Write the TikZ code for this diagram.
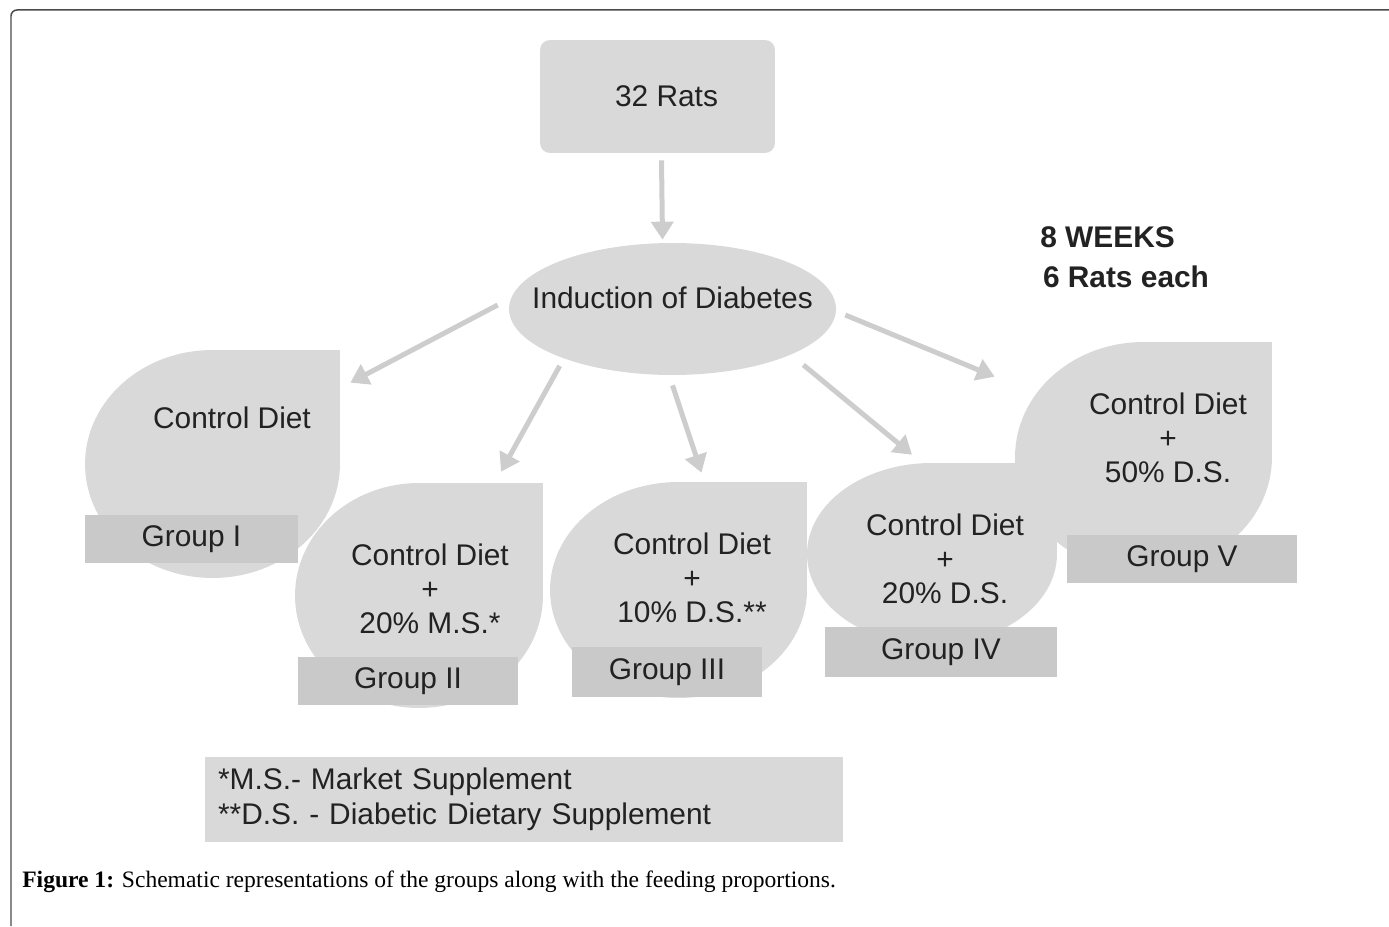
\documentclass[tikz,border=0pt]{standalone}
\usepackage{fontspec}
\setmainfont{Liberation Serif}
\setsansfont{Liberation Sans}
\usepackage{tikz}
\usetikzlibrary{arrows.meta,shapes,calc}
\definecolor{boxgray}{HTML}{D9D9D9}
\definecolor{bargray}{HTML}{C9C9C9}
\definecolor{arrgray}{HTML}{CDCDCD}
\definecolor{framegray}{HTML}{4A4A4A}
\definecolor{inkgray}{HTML}{222222}

\begin{document}
\begin{tikzpicture}[
    x=0.02cm, y=-0.02cm,
    lbl/.style={font=\sffamily\fontsize{17}{19.5}\selectfont, text=inkgray,
        align=center, inner sep=0pt},
    drop/.style={ellipse, fill=boxgray, inner sep=0pt},
    grp/.style={lbl, fill=bargray},
    feed/.style={-{Triangle[width=0.44cm,length=0.36cm]}, line width=0.1cm, color=arrgray}
]
\useasboundingbox (0,0) rectangle (1389,926);
\draw[framegray, line width=0.03cm, rounded corners=0.12cm] (11,926) -- (11,10) -- (1389,10);

% top of the scheme
\node[fill=boxgray, rounded corners=0.2cm, minimum width=4.7cm, minimum height=2.26cm,
    label={[lbl, xshift=0.18cm]center:32 Rats}] (rats) at (657.5,96.5) {};
\node[ellipse, fill=boxgray, inner sep=0pt, minimum width=6.54cm, minimum height=2.64cm,
    label={[lbl, yshift=0.22cm]center:Induction of Diabetes}] (induct) at (672.5,309) {};
\node[lbl, font=\sffamily\bfseries\fontsize{17}{23}\selectfont, align=left, anchor=west] (weeks) at (1040,257) {8 WEEKS\\ \hspace{1.5pt}6 Rats each};

% groups
\node[drop, minimum width=5.1cm, minimum height=4.56cm] (g1) at (212.5,464) {};
\fill[boxgray] (g1.center) rectangle (g1.north -| g1.east);
\node[lbl] (d1) at (232,418) {Control Diet};
\node[grp, minimum width=4.26cm, minimum height=0.96cm] (b1) at (191.5,539) {Group I};

\node[drop, minimum width=4.96cm, minimum height=4.5cm] (g2) at (419,595.5) {};
\fill[boxgray] (g2.center) rectangle (g2.north -| g2.east);
\node[lbl] (d2) at (430,589) {Control Diet\\ +\\ 20\% M.S.*};
\node[grp, minimum width=4.4cm, minimum height=0.96cm] (b2) at (408,681) {Group II};

\node[drop, minimum width=5.14cm, minimum height=4.32cm] (g3) at (678.5,590) {};
\fill[boxgray] (g3.center) rectangle (g3.north -| g3.east);
\node[lbl] (d3) at (692,578) {Control Diet\\ +\\ 10\% D.S.**};
\node[grp, minimum width=3.8cm, minimum height=1cm] (b3) at (667,672) {Group III};

\node[drop, minimum width=5cm, minimum height=3.64cm] (g4) at (932,554) {};
\fill[boxgray] (g4.center) rectangle (g4.north -| g4.east);
\node[lbl] (d4) at (945,559) {Control Diet\\ +\\ 20\% D.S.};
\node[grp, minimum width=4.64cm, minimum height=1cm] (b4) at (941,652) {Group IV};

\node[drop, minimum width=5.14cm, minimum height=4.6cm] (g5) at (1143.5,457) {};
\fill[boxgray] (g5.center) rectangle (g5.north -| g5.east);
\node[lbl] (d5) at (1168,438) {Control Diet\\ +\\ 50\% D.S.};
\node[grp, minimum width=4.6cm, minimum height=0.96cm] (b5) at (1182,559) {Group V};

% arrows
\draw[feed] ($(rats.south)+(4,7)$) -- ($(induct.north)+(-10,-3)$);
\draw[feed] ($(induct.west)+(-11,-4)$) -- ($(g1.north -| g1.east)+(10,33)$);
\draw[feed] ($(induct.south west)+(3,10)$) -- ($(g2.north)+(82,-11)$);
\draw[feed] ($(induct.south)+(0,10)$) -- ($(g3.north)+(23,-9)$);
\draw[feed] ($(induct.south east)+(15,9)$) -- ($(g4.north)+(-20,-8)$);
\draw[feed] ($(induct.east)+(9,6)$) -- ($(g5.north -| g5.west)+(-20,35)$);

% legend and caption
\node[lbl, fill=boxgray, align=left, text width=12.24cm, inner xsep=0.26cm, minimum height=1.7cm,
    font=\sffamily\fontsize{17}{20}\selectfont] (legend) at (524,799.5)
    {*M.S.- Market Supplement\\ {}**D.S. - Diabetic Dietary Supplement};
\node[anchor=west, inner sep=0pt, font=\fontsize{13.4}{15}\selectfont] (caption) at (22,882)
    {\textbf{Figure 1:} Schematic representations of the groups along with the feeding proportions.};
\end{tikzpicture}
\end{document}
